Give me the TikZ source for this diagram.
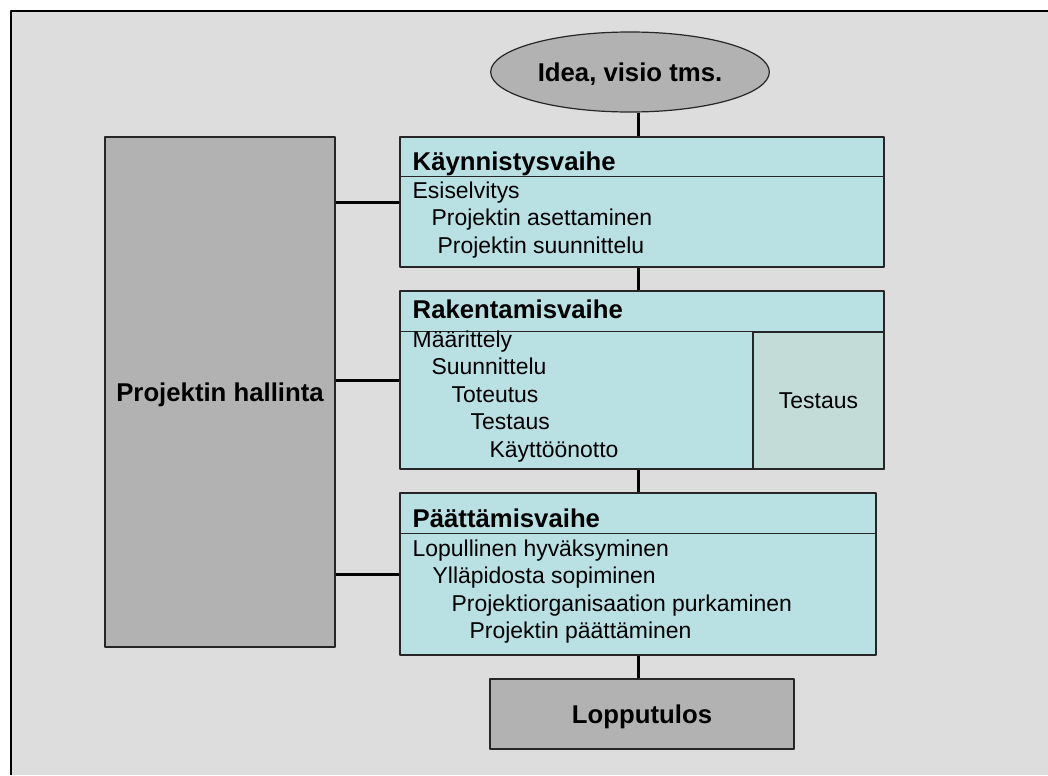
\documentclass[tikz,border=0pt]{standalone}
\usepackage{fontspec}
\setmainfont{Liberation Sans}
\usetikzlibrary{shapes.geometric,positioning}
\definecolor{tausta}{HTML}{DDDDDD}
\definecolor{harmaa}{HTML}{B2B2B2}
\definecolor{syaani}{HTML}{B9E0E3}
\definecolor{testivari}{HTML}{C4DCD8}
\newcommand{\lihava}{\fontsize{19.3}{23}\selectfont\bfseries}
\newcommand{\leipa}{\fontsize{17.2}{20}\selectfont}
\begin{document}
\begin{tikzpicture}[x=0.75pt, y=-0.75pt, line join=round,
		ohut/.style={draw=black!85, line width=0.9pt},
		vaihe/.style={ohut, fill=syaani, minimum width=363pt, inner sep=0},
		laatikko/.style={ohut, fill=harmaa, inner sep=0, font=\lihava, text height=13.8pt, text depth=0pt},
		yhteys/.style={line width=2.25pt},
		teksti/.style={inner sep=0, anchor=base west, font=\leipa},
		otsikko/.style={inner sep=0, anchor=base west, font=\lihava}]
				% tausta ja kehys
				\useasboundingbox (0,0) rectangle (1048,775);
				\fill[tausta] (11,11) rectangle (1048,775);
				\draw[line width=1.5pt] (11,775) -- (11,11) -- (1048,11);
				\coordinate (akseli) at (638,0);
				\node[ellipse, laatikko, minimum width=209pt, minimum height=60pt] (idea) at (630,72) {Idea, visio tms.};
				\node[laatikko, minimum width=172.5pt, minimum height=382.5pt] (hallinta) at (220,392) {Projektin hallinta};
				% Käynnistysvaihe
				\node[vaihe, minimum height=97.5pt] (kv) at (642,202) {};
				\draw[ohut] ([yshift=-30pt]kv.north west) -- ([yshift=-30pt]kv.north east);
				\node[otsikko] (kvo) at ([shift={(13,34)}]kv.north west) {Käynnistysvaihe};
				\foreach \i/\sis/\rivi in {0/0/Esiselvitys, 1/19/Projektin asettaminen, 2/25/Projektin suunnittelu}
					\node[teksti] (kv\i) at ([shift={(13+\sis,62+27.5*\i)}]kv.north west) {\rivi};
				% Rakentamisvaihe
				\node[vaihe, minimum height=133.5pt] (rv) at (642,380) {};
				\node[ohut, fill=testivari, minimum width=98.25pt, minimum height=102.75pt, anchor=south east, font=\leipa, text height=12.3pt, text depth=0pt] (rvt) at (rv.south east) {Testaus};
				\draw[ohut] ([yshift=-30.75pt]rv.north west) -- ([yshift=-30.75pt]rv.north east);
				\node[otsikko] (rvo) at ([shift={(13,28)}]rv.north west) {Rakentamisvaihe};
				\foreach \i/\sis/\rivi in {0/0/Määrittely, 1/19/Suunnittelu, 2/39/Toteutus, 3/58/Testaus, 4/77/Käyttöönotto}
					\node[teksti] (rv\i) at ([shift={(13+\sis,57+27.5*\i)}]rv.north west) {\rivi};
				% Päättämisvaihe
				\node[vaihe, minimum width=357pt, minimum height=121.5pt] (pv) at (638,574) {};
				\draw[ohut] ([yshift=-30.75pt]pv.north west) -- ([yshift=-30.75pt]pv.north east);
				\node[otsikko] (pvo) at ([shift={(13,35)}]pv.north west) {Päättämisvaihe};
				\foreach \i/\sis/\rivi in {0/0/Lopullinen hyväksyminen, 1/20/Ylläpidosta sopiminen, 2/39/Projektiorganisaation purkaminen, 3/57/Projektin päättäminen}
					\node[teksti] (pv\i) at ([shift={(13+\sis,64+27.5*\i)}]pv.north west) {\rivi};
				\node[laatikko, minimum width=228pt, minimum height=52.5pt] (tulos) at (642,714) {Lopputulos};
				% yhteydet
				\draw[yhteys] (idea.south -| akseli) -- (kv.north -| akseli);
				\draw[yhteys] (kv.south -| akseli) -- (rv.north -| akseli);
				\draw[yhteys] (rv.south -| akseli) -- (pv.north -| akseli);
				\draw[yhteys] (pv.south -| akseli) -- (tulos.north -| akseli);
				\foreach \v in {kv,rv,pv}
					\draw[yhteys] (hallinta.east |- \v.west) -- (\v.west);
\end{tikzpicture}
\end{document}
